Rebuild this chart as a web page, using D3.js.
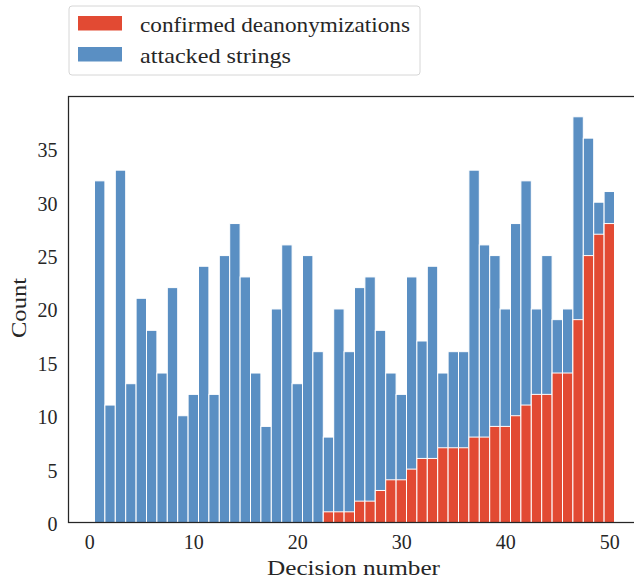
<!DOCTYPE html>
<html>
<head>
<meta charset="utf-8">
<script src="https://cdn.jsdelivr.net/npm/d3@7"></script>
<style>
  body { margin: 0; background: #fff; }
  svg { display: block; overflow: hidden; }
</style>
</head>
<body>
<div id="chart"></div>
<script>
// Data
const decisions = d3.range(1, 51);
const attacked = [32, 11, 33, 13, 21, 18, 14, 22, 10, 12,
                  24, 12, 25, 28, 23, 14, 9, 20, 26, 13,
                  25, 16, 8, 20, 16, 22, 23, 18, 14, 12,
                  23, 17, 24, 14, 16, 16, 33, 26, 25, 20,
                  28, 32, 20, 25, 19, 20, 38, 36, 30, 31];
const confirmed = [0, 0, 0, 0, 0, 0, 0, 0, 0, 0,
                   0, 0, 0, 0, 0, 0, 0, 0, 0, 0,
                   0, 0, 1, 1, 1, 2, 2, 3, 4, 4,
                   5, 6, 6, 7, 7, 7, 8, 8, 9, 9,
                   10, 11, 12, 12, 14, 14, 19, 25, 27, 28];
const xTicks = [0, 10, 20, 30, 40, 50];
const yTicks = [0, 5, 10, 15, 20, 25, 30, 35];
const legendLabels = ["confirmed deanonymizations", "attacked strings"];

// Dimensions
const width = 634;
const height = 581;
const RED = "#E24A33";
const BLUE = "#5A8FC3";
const FONT = "'Liberation Serif', 'DejaVu Serif', serif";
const INK = "#262626";

const svg = d3.select("#chart").append("svg")
    .attr("width", width)
    .attr("height", height)
    .attr("font-family", FONT);

// Scales (axes extend past the right edge, as in the cropped figure)
const x = d3.scaleLinear().domain([-2, 53]).range([68.5, 640.5]);
const y = d3.scaleLinear().domain([0, 39.9]).range([522.5, 96.5]);

// Bars: attacked (blue) then confirmed (red) overlaid from zero
svg.append("g")
    .selectAll("rect")
    .data(decisions)
    .join("rect")
    .attr("x", d => x(d - 0.5))
    .attr("width", d => x(d + 0.5) - x(d - 0.5))
    .attr("y", (d, i) => y(attacked[i]))
    .attr("height", (d, i) => y(0) - y(attacked[i]))
    .attr("fill", BLUE)
    .attr("stroke", "#fff")
    .attr("stroke-width", 1);

svg.append("g")
    .selectAll("rect")
    .data(decisions.filter((d, i) => confirmed[i] > 0))
    .join("rect")
    .attr("x", d => x(d - 0.5))
    .attr("width", d => x(d + 0.5) - x(d - 0.5))
    .attr("y", d => y(confirmed[d - 1]))
    .attr("height", d => y(0) - y(confirmed[d - 1]))
    .attr("fill", RED)
    .attr("stroke", "#fff")
    .attr("stroke-width", 1);

// Frame
svg.append("rect")
    .attr("x", x(-2))
    .attr("y", y(39.9))
    .attr("width", x(53) - x(-2))
    .attr("height", y(0) - y(39.9))
    .attr("fill", "none")
    .attr("stroke", INK)
    .attr("stroke-width", 1.25);

// Axes (no tick marks, just labels)
const xAxis = svg.append("g")
    .attr("transform", `translate(0,${y(0)})`)
    .call(d3.axisBottom(x).tickValues(xTicks).tickSize(0).tickPadding(12));
xAxis.select(".domain").remove();
xAxis.attr("font-family", FONT).attr("font-size", 20);
xAxis.selectAll("text").attr("fill", INK);

const yAxis = svg.append("g")
    .attr("transform", `translate(${x(-2)},0)`)
    .call(d3.axisLeft(y).tickValues(yTicks).tickSize(0).tickPadding(11));
yAxis.select(".domain").remove();
yAxis.attr("font-family", FONT).attr("font-size", 20);
yAxis.selectAll("text").attr("dy", "0.4em").attr("fill", INK);

// Axis labels (stretched to the reference's wider serif face)
svg.append("text")
    .attr("x", 353.5)
    .attr("y", 575)
    .attr("text-anchor", "middle")
    .attr("font-size", 21)
    .attr("textLength", 173)
    .attr("lengthAdjust", "spacingAndGlyphs")
    .attr("fill", INK)
    .text("Decision number");

svg.append("text")
    .attr("transform", "translate(26,308) rotate(-90)")
    .attr("text-anchor", "middle")
    .attr("font-size", 21)
    .attr("textLength", 60)
    .attr("lengthAdjust", "spacingAndGlyphs")
    .attr("fill", INK)
    .text("Count");

// Legend
const legend = svg.append("g");
legend.append("rect")
    .attr("x", 69)
    .attr("y", 6)
    .attr("width", 351)
    .attr("height", 69)
    .attr("rx", 3)
    .attr("fill", "#fff")
    .attr("stroke", "#d6d6d6")
    .attr("stroke-width", 1);

const legendColours = [RED, BLUE];
const legendWidths = [270, 151];
legendLabels.forEach((label, i) => {
    legend.append("rect")
        .attr("x", 78)
        .attr("y", 16 + i * 31)
        .attr("width", 44)
        .attr("height", 14.5)
        .attr("fill", legendColours[i]);
    legend.append("text")
        .attr("x", 140)
        .attr("y", 31.5 + i * 31)
        .attr("font-size", 21)
        .attr("textLength", legendWidths[i])
        .attr("lengthAdjust", "spacingAndGlyphs")
        .attr("fill", INK)
        .text(label);
});
</script>
</body>
</html>
